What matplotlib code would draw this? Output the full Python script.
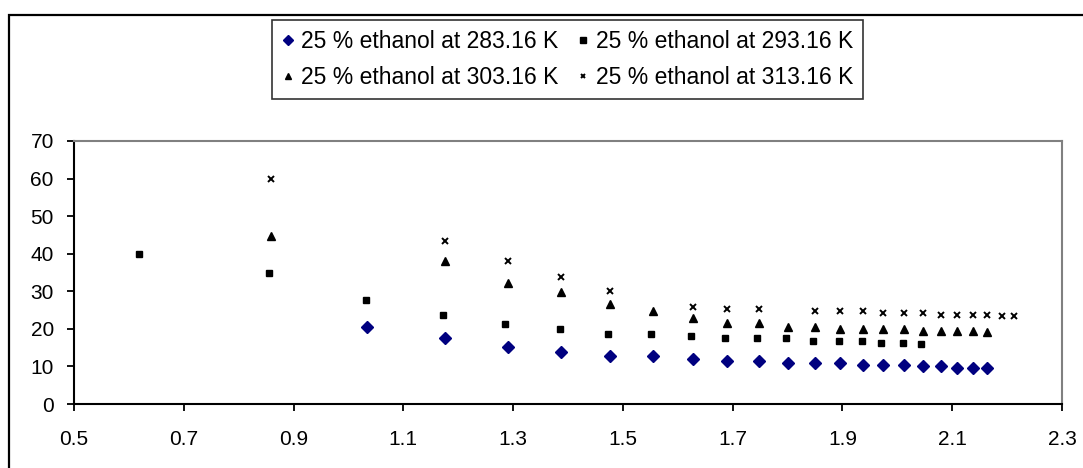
import matplotlib
matplotlib.use("Agg")
import matplotlib.pyplot as plt
from matplotlib.patches import Rectangle

plt.rcParams['font.family'] = ['Liberation Sans', 'DejaVu Sans']

# 25 % ethanol at 283.16 K
x_283 = [1.034, 1.175, 1.290, 1.388, 1.477, 1.555, 1.627, 1.689, 1.748, 1.800,
         1.850, 1.896, 1.938, 1.974, 2.013, 2.046, 2.079, 2.109, 2.137, 2.164]
y_283 = [20.4, 17.6, 15.2, 13.8, 12.8, 12.8, 11.9, 11.4, 11.4, 11.0,
         11.0, 11.0, 10.5, 10.5, 10.5, 10.1, 10.1, 9.5, 9.5, 9.5]

# 25 % ethanol at 293.16 K
x_293 = [0.618, 0.855, 1.032, 1.172, 1.286, 1.385, 1.473, 1.552, 1.624, 1.686,
         1.745, 1.797, 1.847, 1.893, 1.935, 1.971, 2.010, 2.043]
y_293 = [40.0, 34.8, 27.6, 23.8, 21.4, 19.9, 18.5, 18.5, 18.1, 17.6,
         17.6, 17.6, 16.8, 16.8, 16.8, 16.3, 16.3, 15.9]

# 25 % ethanol at 303.16 K
x_303 = [0.858, 1.175, 1.290, 1.388, 1.477, 1.555, 1.627, 1.689, 1.748, 1.800,
         1.850, 1.896, 1.938, 1.974, 2.013, 2.046, 2.079, 2.109, 2.137, 2.164]
y_303 = [44.6, 38.0, 32.3, 29.8, 26.6, 24.7, 22.8, 21.5, 21.5, 20.5,
         20.5, 19.9, 19.9, 19.9, 19.9, 19.5, 19.5, 19.5, 19.5, 19.1]

# 25 % ethanol at 313.16 K
x_313 = [0.858, 1.175, 1.290, 1.388, 1.477, 1.627, 1.689, 1.748, 1.850, 1.896,
         1.938, 1.974, 2.013, 2.046, 2.079, 2.109, 2.137, 2.164, 2.190, 2.213]
y_313 = [60.0, 43.3, 38.0, 33.8, 30.0, 25.8, 25.3, 25.3, 24.7, 24.7,
         24.7, 24.3, 24.3, 24.3, 23.8, 23.8, 23.8, 23.8, 23.4, 23.4]

labels = ["25 % ethanol at 283.16 K", "25 % ethanol at 293.16 K",
          "25 % ethanol at 303.16 K", "25 % ethanol at 313.16 K"]

x_ticks = [0.5, 0.7, 0.9, 1.1, 1.3, 1.5, 1.7, 1.9, 2.1, 2.3]
y_ticks = [0, 10, 20, 30, 40, 50, 60, 70]


def main():
    fig = plt.figure(figsize=(10.83, 4.68), dpi=100)
    ax = fig.add_axes([74 / 1083, 1 - 404 / 468, 988 / 1083, 263 / 468])

    h283, = ax.plot(x_283, y_283, 'D', color='#000080', ms=6, ls='none', label=labels[0])
    h293, = ax.plot(x_293, y_293, 's', color='black', ms=5, ls='none', label=labels[1])
    h303, = ax.plot(x_303, y_303, '^', color='black', ms=6.2, ls='none', label=labels[2])
    h313, = ax.plot(x_313, y_313, 'x', color='black', ms=4.2, mew=1.4, ls='none', label=labels[3])

    ax.set_xlim(0.5, 2.3)
    ax.set_ylim(0, 70)
    ax.set_xticks(x_ticks)
    ax.set_xticklabels([f"{t:.1f}" for t in x_ticks])
    ax.set_yticks(y_ticks)

    for side in ['left', 'bottom']:
        ax.spines[side].set_linewidth(1.5)
        ax.spines[side].set_color('black')
    for side in ['top', 'right']:
        ax.spines[side].set_linewidth(1.5)
        ax.spines[side].set_color('#808080')

    ax.tick_params(direction='out', length=5, width=1.3, labelsize=15)
    ax.tick_params(axis='x', pad=14)
    ax.tick_params(axis='y', pad=9.5)

    # legend is filled column by column, so order handles to read row-wise
    handles = [h283, h303, h293, h313]
    leg = fig.legend(handles, [h.get_label() for h in handles], ncol=2, loc='upper left',
                     bbox_to_anchor=(272 / 1083, 1 - 20 / 468),
                     borderaxespad=0, fontsize=16.5, frameon=True, fancybox=False,
                     handlelength=0.52, handletextpad=0.3, columnspacing=0.8,
                     labelspacing=0.55, borderpad=0.45, markerscale=0.8)
    leg.get_frame().set_edgecolor('black')
    leg.get_frame().set_linewidth(1.2)

    # chart area border, runs past the right and bottom of the picture
    fig.patches.append(Rectangle((9 / 1083, -0.1), 1.2, 1.1 - 15 / 468,
                                 transform=fig.transFigure, fill=False,
                                 ec='black', lw=1.6, clip_on=False))

    fig.savefig('out.png', dpi=100)
    plt.close(fig)


if __name__ == '__main__':
    main()
